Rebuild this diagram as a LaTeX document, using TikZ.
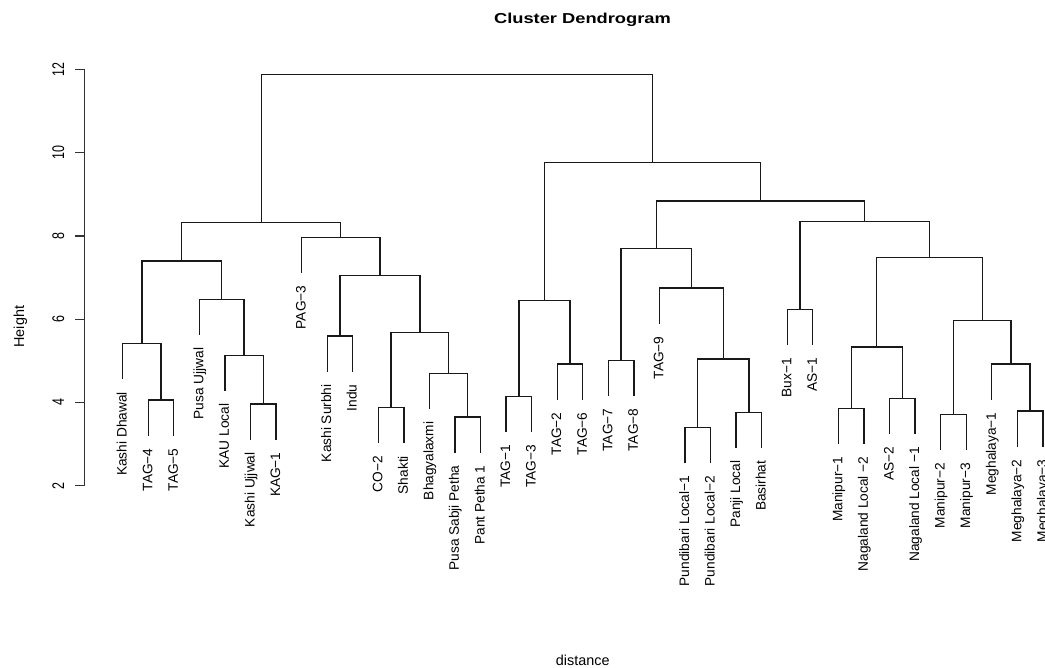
\documentclass[tikz,border=0pt]{standalone}
\usepackage{fontspec}
\setmainfont{Liberation Sans}
\tikzset{
  dline/.style={line width=1.3bp, black!90},
  axisline/.style={line width=1.3bp, black!80},
  lbl/.style={rotate=90, anchor=base east, inner sep=0pt, font=\fontsize{13.7bp}{16bp}\selectfont},
  ticklbl/.style={rotate=90, anchor=base, inner sep=0pt, font=\fontsize{12.5bp}{15bp}\selectfont},
  axtitle/.style={anchor=base, inner sep=0pt, font=\fontsize{14.4bp}{17bp}\selectfont},
}
\newcommand\lf[4]{%
  \coordinate (#1) at ({122.7+(#2-1)*25.56},#3);
  \node[lbl] (#1t) at ({126.7+(#2-1)*25.56},{#3+12.7}) {#4};}
\newcommand\mrg[5]{%
  \coordinate (#1) at (#2,#3);
  \draw[dline] (#4) |- (#1) -| (#5);}
\begin{document}
\begin{tikzpicture}[x=1bp,y=-1bp]
\useasboundingbox (0,0) rectangle (1045,668);
% title and axis titles
\node[anchor=base, inner sep=0pt] (title) at (582.5,23.5) {\scalebox{1.27}[1]{\fontsize{14.4bp}{17bp}\selectfont\bfseries Cluster Dendrogram}};
\node[axtitle] (xlab) at (582.7,665.5) {distance};
\node[axtitle, rotate=90] (ylab) at (24,326.7) {Height};
% y axis
\coordinate (axtop) at (84.5,69.3);
\coordinate (axbot) at (84.5,485.8);
\draw[axisline] (axtop) -- (axbot);
\foreach \v in {2,4,...,12}{
  \coordinate (tk\v) at (84.5,{69.3+(12-\v)*41.65});
  \draw[axisline] (tk\v) -- ++(-10,0);
  \node[ticklbl] (tl\v) at (64,{69.3+(12-\v)*41.65}) {\scalebox{1}[1.35]{\v}};
}
% leaves
\lf{l1}{1}{379.2}{Kashi Dhawal}
\lf{l2}{2}{435.5}{TAG−4}
\lf{l3}{3}{435.5}{TAG−5}
\lf{l4}{4}{334.8}{Pusa Ujjwal}
\lf{l5}{5}{390.8}{KAU Local}
\lf{l6}{6}{439.5}{Kashi Ujjwal}
\lf{l7}{7}{439.5}{KAG−1}
\lf{l8}{8}{272.8}{PAG−3}
\lf{l9}{9}{371.5}{Kashi Surbhi}
\lf{l10}{10}{371.5}{Indu}
\lf{l11}{11}{443.2}{CO−2}
\lf{l12}{12}{443.2}{Shakti}
\lf{l13}{13}{408.8}{Bhagyalaxmi}
\lf{l14}{14}{452.5}{Pusa Sabji Petha}
\lf{l15}{15}{452.5}{Pant Petha 1}
\lf{l16}{16}{432.2}{TAG−1}
\lf{l17}{17}{432.2}{TAG−3}
\lf{l18}{18}{399.5}{TAG−2}
\lf{l19}{19}{399.5}{TAG−6}
\lf{l20}{20}{395.8}{TAG−7}
\lf{l21}{21}{395.8}{TAG−8}
\lf{l22}{22}{323.5}{TAG−9}
\lf{l23}{23}{463.2}{Pundibari Local−1}
\lf{l24}{24}{463.2}{Pundibari Local−2}
\lf{l25}{25}{447.8}{Panji Local}
\lf{l26}{26}{447.8}{Basirhat}
\lf{l27}{27}{345.2}{Bux−1}
\lf{l28}{28}{345.2}{AS−1}
\lf{l29}{29}{443.8}{Manipur−1}
\lf{l30}{30}{443.8}{Nagaland Local −2}
\lf{l31}{31}{434.2}{AS−2}
\lf{l32}{32}{434.2}{Nagaland Local −1}
\lf{l33}{33}{450.2}{Manipur−2}
\lf{l34}{34}{450.2}{Manipur−3}
\lf{l35}{35}{399.5}{Meghalaya−1}
\lf{l36}{36}{446.5}{Meghalaya−2}
\lf{l37}{37}{446.5}{Meghalaya−3}
% merges (left)
\mrg{ma}{161.05}{400}{l2}{l3}
\mrg{mb}{141.9}{343.7}{l1}{ma}
\mrg{mc}{263.3}{404}{l6}{l7}
\mrg{md}{244.1}{355.3}{l5}{mc}
\mrg{me}{221.75}{299.3}{l4}{md}
\mrg{mf}{181.8}{261}{mb}{me}
\mrg{mg}{339.95}{336}{l9}{l10}
\mrg{mh}{391.1}{407.7}{l11}{l12}
\mrg{mi}{467.75}{417}{l14}{l15}
\mrg{mj}{448.6}{373.3}{l13}{mi}
\mrg{mk}{419.85}{332.7}{mh}{mj}
\mrg{ml}{379.9}{275.7}{mg}{mk}
\mrg{mm}{340.75}{237.3}{l8}{ml}
\mrg{mn}{261.3}{222.7}{mf}{mm}
% merges (right)
\mrg{mo}{518.9}{396.7}{l16}{l17}
\mrg{mp}{570}{364}{l18}{l19}
\mrg{mq}{544.45}{300.7}{mo}{mp}
\mrg{mr}{621.1}{360.3}{l20}{l21}
\mrg{ms}{697.8}{427.7}{l23}{l24}
\mrg{mt}{748.9}{412.3}{l25}{l26}
\mrg{mu}{723.35}{359}{ms}{mt}
\mrg{mv}{691.4}{288}{l22}{mu}
\mrg{mw}{656.25}{248.3}{mr}{mv}
\mrg{mx}{800.05}{309.7}{l27}{l28}
\mrg{my}{851.15}{408.3}{l29}{l30}
\mrg{mz}{902.3}{398.7}{l31}{l32}
\mrg{maa}{876.7}{347}{my}{mz}
\mrg{mbb}{953.4}{414.7}{l33}{l34}
\mrg{mcc}{1030.1}{411}{l36}{l37}
\mrg{mdd}{1010.9}{364}{l35}{mcc}
\mrg{mee}{982.15}{320.7}{mbb}{mdd}
\mrg{mff}{929.4}{257.7}{maa}{mee}
\mrg{mgg}{864.7}{221.3}{mx}{mff}
\mrg{mhh}{760.5}{201}{mw}{mgg}
\mrg{mii}{652.5}{162.7}{mq}{mhh}
% root
\mrg{root}{456.9}{74.3}{mn}{mii}
\end{tikzpicture}
\end{document}
